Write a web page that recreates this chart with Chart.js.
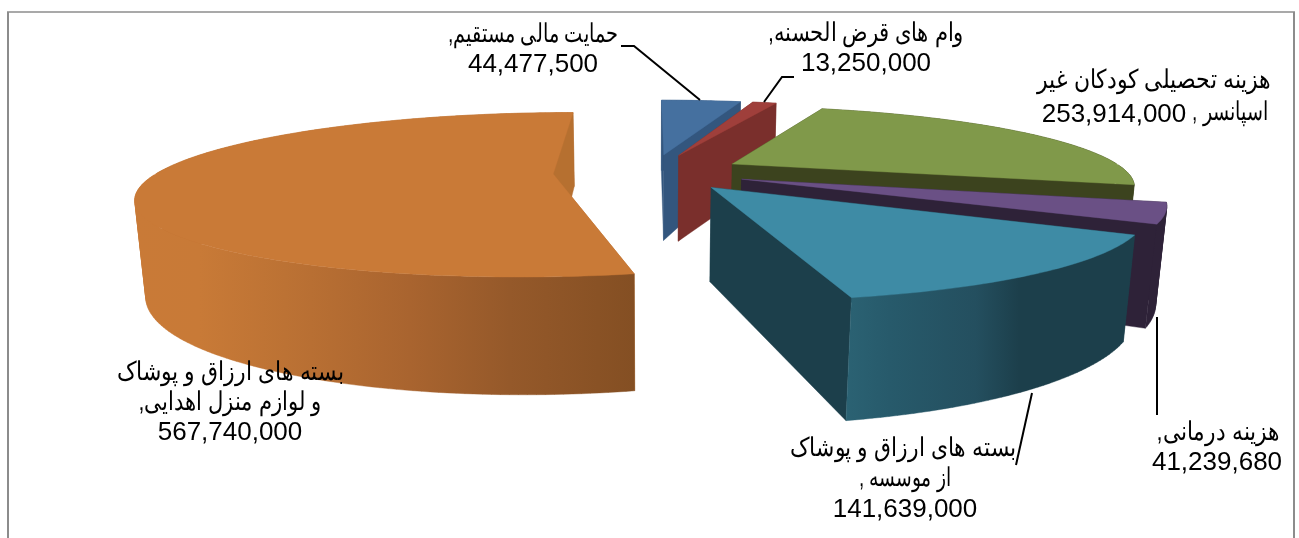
<!DOCTYPE html>
<html lang="fa">
<head>
<meta charset="utf-8">
<style>
html,body{margin:0;padding:0;background:#fff;overflow:hidden}
canvas{display:block}
</style>
<script src="https://cdn.jsdelivr.net/npm/chart.js@4/dist/chart.umd.min.js"></script>
</head>
<body>
<div style="width:1299px;height:538px"><canvas id="c" width="1299" height="538"></canvas></div>
<script>
// ---- data ----
const categories = [
  "حمایت مالی مستقیم",
  "وام های قرض الحسنه",
  "هزینه تحصیلی کودکان غیر اسپانسر",
  "هزینه درمانی",
  "بسته های ارزاق و پوشاک از موسسه",
  "بسته های ارزاق و پوشاک و لوازم منزل اهدایی"
];
const values = [44477500, 13250000, 253914000, 41239680, 141639000, 567740000];

// ---- styling ----
const topColors  = ["#45709F", "#9F3F3B", "#80994A", "#6A5085", "#3E8BA5", "#C97A37"];
const wallColors = ["#33567E", "#7A2F2C", "#3C431E", "#2E2238", "#1C3F4B", "#B67030"];
const rimStops = [
  [[0, "#33567E"], [1, "#33567E"]],
  [[0, "#7A2F2C"], [1, "#7A2F2C"]],
  [[0, "#3C431E"], [1, "#3C431E"]],
  [[0, "#2E2238"], [1, "#2E2238"]],
  [[0, "#2B6273"], [0.15, "#275A6B"], [0.45, "#244F5F"], [0.6, "#1C3F4B"], [1, "#1C3F4B"]],
  [[0, "#C97A37"], [0.13, "#C87A37"], [0.3, "#BC7234"], [0.55, "#A9642F"], [0.75, "#95592A"], [1, "#844F23"]]
];
const explode = [48, 48, 47, 48, 48, 50];
const view = {cx: 652, cy: 172, k: 395, a: 76, p: 0.25, h: 92, e: 0.02};

// label lines: Arabic runs are fitted to the measured width [text, centre x, baseline, width]
const labelRuns = [
  [["حمایت مالی مستقیم,", 533, 42, 170], ["{v}", 533, 72]],
  [["وام های قرض الحسنه,", 866, 41, 196], ["{v}", 866, 71]],
  [["هزینه تحصیلی کودکان غیر", 1154, 88, 234], ["{v}", 1114, 122], ["اسپانسر ,", 1230, 120, 76]],
  [["هزینه درمانی,", 1218, 440, 123], ["{v}", 1217, 470]],
  [["بسته های ارزاق و پوشاک", 903, 456, 226], ["از موسسه ,", 905, 486, 92], ["{v}", 905, 517]],
  [["بسته های ارزاق و پوشاک", 230, 380, 227], ["و لوازم منزل اهدایی,", 230, 410, 183], ["{v}", 230, 440]]
];
const leaders = [
  [[621, 46], [634, 46], [700, 100]],
  [[794, 77], [782, 77], [764, 102]],
  [[1157, 317], [1157, 415]],
  [[1032, 393], [1016, 465]]
];

function project(X, Y, z) {
  const v = view, w = 1 - v.p * Y + v.e * z;
  return [v.cx + v.k * X / w, v.cy + (v.a * Y + v.h * z) / w];
}
function tracePoly(ctx, pts) {
  pts.forEach((p, i) => i ? ctx.lineTo(p[0], p[1]) : ctx.moveTo(p[0], p[1]));
  ctx.closePath();
}
function paint(ctx, style) {
  ctx.fillStyle = style;
  ctx.strokeStyle = style;
  ctx.lineWidth = 0.4;
  ctx.fill();
  ctx.stroke();
}
function fillPoly(ctx, pts, style) {
  ctx.beginPath();
  tracePoly(ctx, pts);
  paint(ctx, style);
}
function wallQuad(a, b) {
  return [project(a[0], a[1], 0), project(b[0], b[1], 0), project(b[0], b[1], 1), project(a[0], a[1], 1)];
}
function signedArea(q) {
  return q.reduce((s, p, i) => {
    const n = q[(i + 1) % q.length];
    return s + p[0] * n[1] - n[0] * p[1];
  }, 0);
}
function drawRim(ctx, list, stops) {
  if (list.length < 2) return;
  const quads = [];
  for (let n = 0; n < list.length - 1; n++) {
    const q = wallQuad(list[n], list[n + 1]);
    quads.push(signedArea(q) < 0 ? q.reverse() : q);
  }
  const xs = quads.flat().map(p => p[0]);
  const g = ctx.createLinearGradient(Math.min(...xs), 0, Math.max(...xs), 0);
  stops.forEach(s => g.addColorStop(s[0], s[1]));
  ctx.beginPath();
  quads.forEach(q => tracePoly(ctx, q));
  paint(ctx, g);
}

const perspectivePie = {
  id: "perspectivePie",
  beforeDatasetsDraw(chart) {
    const ctx = chart.ctx;
    chart.getDatasetMeta(0).data.forEach((arc, i) => {
      const R = arc.outerRadius, off = arc.options.offset / R;
      const mid = (arc.startAngle + arc.endAngle) / 2;
      const ax = Math.cos(mid) * off, ay = Math.sin(mid) * off;
      const steps = Math.max(6, Math.ceil((arc.endAngle - arc.startAngle) * 180 / Math.PI));
      const rim = [];
      for (let s = 0; s <= steps; s++) {
        const t = arc.startAngle + (arc.endAngle - arc.startAngle) * s / steps;
        rim.push([ax + Math.cos(t), ay + Math.sin(t)]);
      }
      const back = rim.filter(q => q[1] < ay), front = rim.filter(q => q[1] >= ay);
      drawRim(ctx, back, [[0, wallColors[i]], [1, wallColors[i]]]);
      fillPoly(ctx, wallQuad([ax, ay], rim[0]), wallColors[i]);
      fillPoly(ctx, wallQuad([ax, ay], rim[rim.length - 1]), wallColors[i]);
      drawRim(ctx, front, rimStops[i]);
      fillPoly(ctx, [project(ax, ay, 0)].concat(rim.map(q => project(q[0], q[1], 0))), topColors[i]);
    });
    return false;
  },
  afterDraw(chart) {
    const ctx = chart.ctx;
    ctx.save();
    ctx.strokeStyle = "#8C8C8C";
    ctx.lineWidth = 2;
    ctx.beginPath();
    ctx.moveTo(8, 538); ctx.lineTo(8, 12); ctx.moveTo(1294, 12); ctx.lineTo(1294, 538);
    ctx.stroke();
    ctx.lineWidth = 1.5;
    ctx.beginPath();
    ctx.moveTo(7, 12); ctx.lineTo(1295, 12);
    ctx.stroke();
    ctx.strokeStyle = "#000";
    ctx.lineWidth = 2;
    leaders.forEach(l => {
      ctx.beginPath();
      l.forEach((p, i) => i ? ctx.lineTo(p[0], p[1]) : ctx.moveTo(p[0], p[1]));
      ctx.stroke();
    });
    ctx.fillStyle = "#000";
    ctx.textAlign = "center";
    ctx.textBaseline = "alphabetic";
    ctx.direction = "rtl";
    ctx.font = "26px 'Liberation Sans', Arial, sans-serif";
    labelRuns.forEach((runs, i) => {
      runs.forEach(([line, x, y, width]) => {
        const txt = line.replace("{v}", values[i].toLocaleString("en-US"));
        const sx = width ? width / ctx.measureText(txt).width : 1;
        ctx.save();
        ctx.translate(x, y);
        ctx.scale(sx, 1);
        ctx.fillText(txt, 0, 0);
        ctx.restore();
      });
    });
    ctx.restore();
  }
};

new Chart(document.getElementById("c"), {
  type: "pie",
  data: {
    labels: categories,
    datasets: [{data: values, backgroundColor: topColors, borderWidth: 0, offset: explode, hoverOffset: 0}]
  },
  options: {
    responsive: false,
    animation: false,
    radius: 200,
    rotation: 0,
    plugins: {legend: {display: false}, tooltip: {enabled: false}}
  },
  plugins: [perspectivePie]
});
</script>
</body>
</html>
